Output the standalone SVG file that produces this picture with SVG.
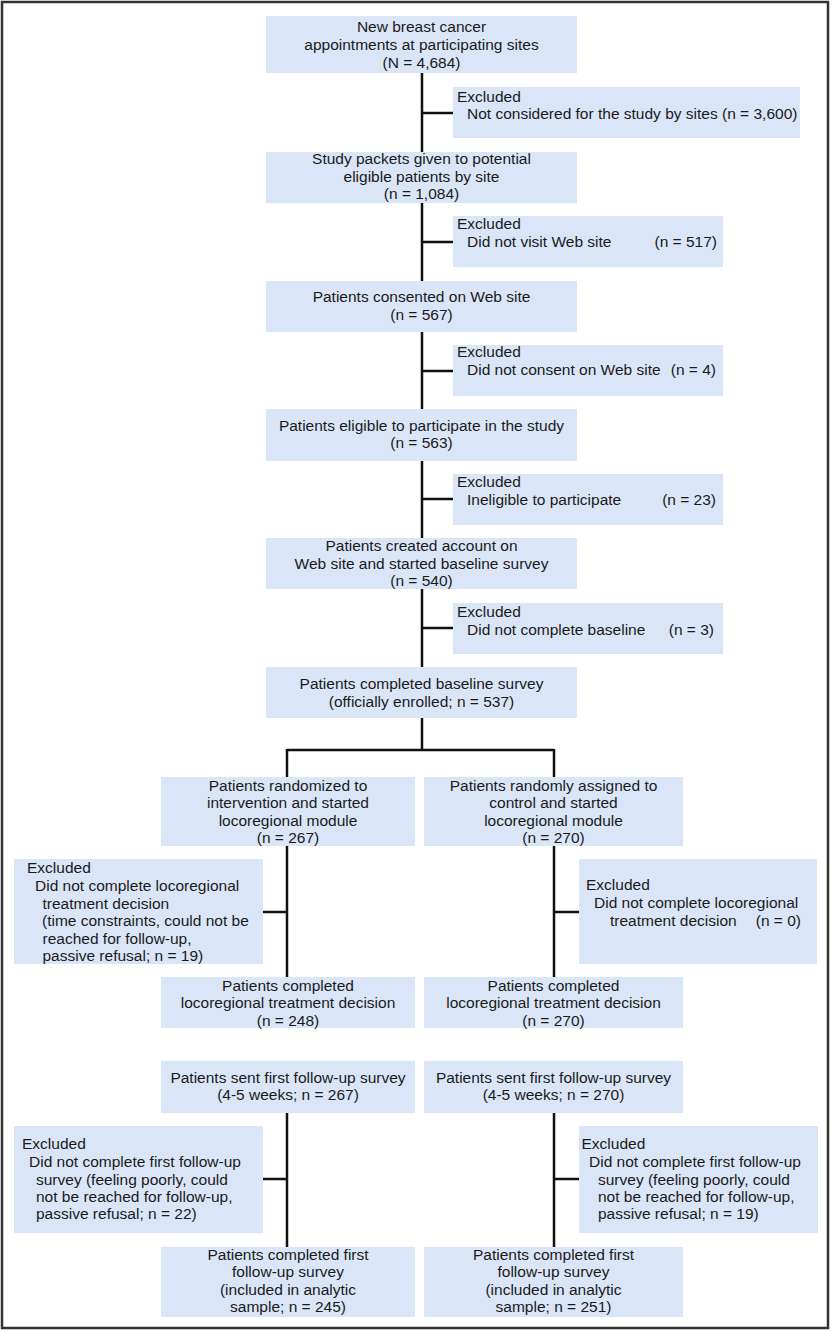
<svg xmlns="http://www.w3.org/2000/svg" width="832" height="1331" viewBox="0 0 832 1331">
<style>
.box{fill:#dae6f8;stroke:none}
text{font-family:"Liberation Sans",Arial,sans-serif;font-size:15.5px;fill:#1a1a1a}
.c{text-anchor:middle}
.e{text-anchor:end}
.ln{stroke:#111;stroke-width:2.5;fill:none}
</style>
<rect x="2" y="2" width="826" height="1326" fill="#fff" stroke="#333" stroke-width="2.5"/>
<g id="connectors" class="ln">
<path d="M422 73V152M422 203V281M422 332V409M422 461V538M422 589V667M422 718V750"/>
<path d="M422 113H453M422 242H453M422 371H453M422 499H453M422 628H453"/>
<path d="M287 750H554M287 749V777M554 749V777"/>
<path d="M287 846V977M263 912H287M554 846V977M554 912H579"/>
<path d="M287 1113V1247M263 1179H287M554 1113V1247M554 1179H579"/>
</g>
<g id="n1"><rect class="box" x="266" y="16" width="311" height="57"/>
<text class="c" x="421.5" y="32">New breast cancer</text>
<text class="c" x="421.5" y="49.5">appointments at participating sites</text>
<text class="c" x="421.5" y="67.5">(N = 4,684)</text></g>
<g id="x1"><rect class="box" x="453" y="87" width="347" height="51"/>
<text x="457" y="101.5">Excluded</text>
<text x="467" y="118.5">Not considered for the study by sites (n = 3,600)</text></g>
<g id="n2"><rect class="box" x="266" y="152" width="311" height="51"/>
<text class="c" x="421.5" y="163.5">Study packets given to potential</text>
<text class="c" x="421.5" y="181.5">eligible patients by site</text>
<text class="c" x="421.5" y="199">(n = 1,084)</text></g>
<g id="x2"><rect class="box" x="453" y="216" width="270" height="51"/>
<text x="457" y="228.5">Excluded</text>
<text x="467" y="246.5">Did not visit Web site</text>
<text class="e" x="717" y="246.5">(n = 517)</text></g>
<g id="n3"><rect class="box" x="266" y="281" width="311" height="51"/>
<text class="c" x="421.5" y="302">Patients consented on Web site</text>
<text class="c" x="421.5" y="319.5">(n = 567)</text></g>
<g id="x3"><rect class="box" x="453" y="345" width="270" height="51"/>
<text x="457" y="357">Excluded</text>
<text x="467" y="374.5">Did not consent on Web site</text>
<text class="e" x="716" y="374.5">(n = 4)</text></g>
<g id="n4"><rect class="box" x="266" y="409" width="311" height="52"/>
<text class="c" x="421.5" y="431">Patients eligible to participate in the study</text>
<text class="c" x="421.5" y="448">(n = 563)</text></g>
<g id="x4"><rect class="box" x="453" y="474" width="270" height="51"/>
<text x="457" y="487">Excluded</text>
<text x="467" y="504.5">Ineligible to participate</text>
<text class="e" x="716" y="504.5">(n = 23)</text></g>
<g id="n5"><rect class="box" x="266" y="538" width="311" height="51"/>
<text class="c" x="421.5" y="551">Patients created account on</text>
<text class="c" x="421.5" y="568.5">Web site and started baseline survey</text>
<text class="c" x="421.5" y="585.5">(n = 540)</text></g>
<g id="x5"><rect class="box" x="453" y="603" width="270" height="51"/>
<text x="457" y="617">Excluded</text>
<text x="467" y="634.5">Did not complete baseline</text>
<text class="e" x="714" y="634.5">(n = 3)</text></g>
<g id="n6"><rect class="box" x="266" y="667" width="311" height="51"/>
<text class="c" x="421.5" y="688.5">Patients completed baseline survey</text>
<text class="c" x="421.5" y="707">(officially enrolled; n = 537)</text></g>
<g id="l1"><rect class="box" x="161" y="777" width="254" height="69"/>
<text class="c" x="288" y="790.5">Patients randomized to</text>
<text class="c" x="288" y="808">intervention and started</text>
<text class="c" x="288" y="825.5">locoregional module</text>
<text class="c" x="288" y="843">(n = 267)</text></g>
<g id="r1"><rect class="box" x="424" y="777" width="259" height="69"/>
<text class="c" x="553.5" y="790.5">Patients randomly assigned to</text>
<text class="c" x="553.5" y="808">control and started</text>
<text class="c" x="553.5" y="825.5">locoregional module</text>
<text class="c" x="553.5" y="843">(n = 270)</text></g>
<g id="xl1"><rect class="box" x="14" y="859" width="249" height="105"/>
<text x="27" y="872.5">Excluded</text>
<text x="35" y="890.5">Did not complete locoregional</text>
<text x="42.5" y="908.5">treatment decision</text>
<text x="42" y="926">(time constraints, could not be</text>
<text x="42.5" y="944">reached for follow-up,</text>
<text x="42.5" y="960.5">passive refusal; n = 19)</text></g>
<g id="xr1"><rect class="box" x="579" y="859" width="238" height="105"/>
<text x="586" y="890">Excluded</text>
<text x="594" y="908">Did not complete locoregional</text>
<text x="610" y="925.5">treatment decision</text>
<text class="e" x="801" y="925.5">(n = 0)</text></g>
<g id="l2"><rect class="box" x="161" y="977" width="254" height="51"/>
<text class="c" x="288" y="990.5">Patients completed</text>
<text class="c" x="288" y="1008">locoregional treatment decision</text>
<text class="c" x="288" y="1025.5">(n = 248)</text></g>
<g id="r2"><rect class="box" x="424" y="977" width="259" height="51"/>
<text class="c" x="553.5" y="990.5">Patients completed</text>
<text class="c" x="553.5" y="1008">locoregional treatment decision</text>
<text class="c" x="553.5" y="1025.5">(n = 270)</text></g>
<g id="l3"><rect class="box" x="161" y="1061" width="254" height="52"/>
<text class="c" x="288" y="1083">Patients sent first follow-up survey</text>
<text class="c" x="288" y="1100">(4-5 weeks; n = 267)</text></g>
<g id="r3"><rect class="box" x="424" y="1061" width="259" height="52"/>
<text class="c" x="553.5" y="1083">Patients sent first follow-up survey</text>
<text class="c" x="553.5" y="1100">(4-5 weeks; n = 270)</text></g>
<g id="xl2"><rect class="box" x="14" y="1126" width="249" height="107"/>
<text x="22" y="1149">Excluded</text>
<text x="29" y="1167">Did not complete first follow-up</text>
<text x="36" y="1184.5">survey (feeling poorly, could</text>
<text x="36" y="1202">not be reached for follow-up,</text>
<text x="36" y="1219">passive refusal; n = 22)</text></g>
<g id="xr2"><rect class="box" x="579" y="1126" width="239" height="107"/>
<text x="581.5" y="1149">Excluded</text>
<text x="589" y="1167">Did not complete first follow-up</text>
<text x="598" y="1184.5">survey (feeling poorly, could</text>
<text x="598" y="1202">not be reached for follow-up,</text>
<text x="598" y="1219">passive refusal; n = 19)</text></g>
<g id="l4"><rect class="box" x="161" y="1247" width="254" height="70"/>
<text class="c" x="288" y="1259.5">Patients completed first</text>
<text class="c" x="288" y="1277">follow-up survey</text>
<text class="c" x="288" y="1294.5">(included in analytic</text>
<text class="c" x="288" y="1312">sample; n = 245)</text></g>
<g id="r4"><rect class="box" x="424" y="1247" width="259" height="70"/>
<text class="c" x="553.5" y="1259.5">Patients completed first</text>
<text class="c" x="553.5" y="1277">follow-up survey</text>
<text class="c" x="553.5" y="1294.5">(included in analytic</text>
<text class="c" x="553.5" y="1312">sample; n = 251)</text></g>
</svg>
